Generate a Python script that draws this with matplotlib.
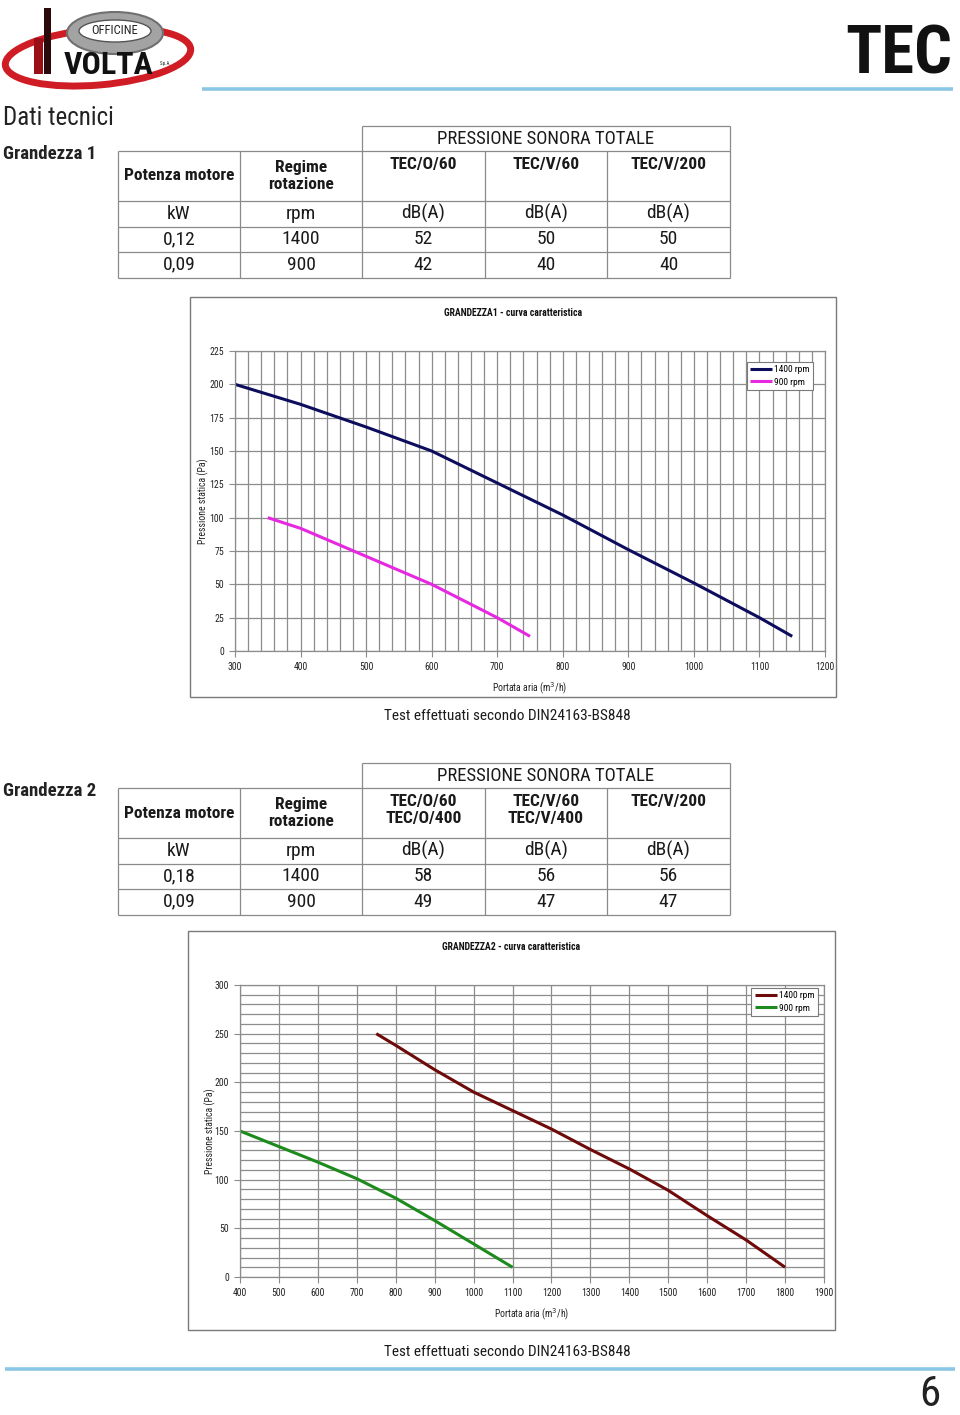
"""
Scheda tecnica TEC (pagina 6) — tabelle pressione sonora e curve caratteristiche.
"""

import matplotlib
matplotlib.use("Agg")
import matplotlib.pyplot as plt
from matplotlib import font_manager
from matplotlib.patches import Ellipse, Rectangle

# ---------------------------------------------------------------------------
# Dati
# ---------------------------------------------------------------------------

# Tabella Grandezza 1
G1_HEADER = ["TEC/O/60", "TEC/V/60", "TEC/V/200"]
G1_UNITS = ["kW", "rpm", "dB(A)", "dB(A)", "dB(A)"]
G1_ROWS = [
    ["0,12", "1400", "52", "50", "50"],
    ["0,09", "900", "42", "40", "40"],
]

# Tabella Grandezza 2
G2_HEADER = ["TEC/O/60\nTEC/O/400", "TEC/V/60\nTEC/V/400", "TEC/V/200"]
G2_UNITS = ["kW", "rpm", "dB(A)", "dB(A)", "dB(A)"]
G2_ROWS = [
    ["0,18", "1400", "58", "56", "56"],
    ["0,09", "900", "49", "47", "47"],
]

# Curva caratteristica Grandezza 1 (portata m3/h, pressione Pa)
G1_1400_Q = [300, 400, 500, 600, 700, 800, 900, 1000, 1100, 1150]
G1_1400_P = [200, 185, 168, 150, 126, 102, 76, 51, 25, 11]
G1_900_Q = [350, 400, 500, 600, 700, 750]
G1_900_P = [100, 92, 71, 50, 25, 11]

# Curva caratteristica Grandezza 2
G2_1400_Q = [750, 800, 900, 1000, 1100, 1200, 1300, 1400, 1500, 1600, 1700, 1800]
G2_1400_P = [250, 238, 213, 190, 171, 152, 131, 111, 89, 63, 38, 10]
G2_900_Q = [400, 500, 600, 700, 800, 900, 1000, 1100]
G2_900_P = [150, 134, 118, 101, 81, 58, 34, 10]

# ---------------------------------------------------------------------------
# Stile
# ---------------------------------------------------------------------------

W, H = 960, 1415
GRID_COLOR = "#8c8c8c"
TABLE_LINE = "#8a8a8a"
TEXT_COLOR = "#1a1a1a"
BLUE_RULE = "#8cc6e6"


def pick_condensed_font():
    """Cerca un font sans stretto (tipo Arial Narrow) tra quelli installati."""
    wanted = ["Liberation Sans Narrow", "Roboto Condensed", "Open Sans Condensed",
              "Noto Sans Condensed", "DejaVu Sans Condensed"]
    names = {f.name for f in font_manager.fontManager.ttflist}
    for name in wanted:
        if name in names:
            return name, "normal", 1.0
    for f in font_manager.fontManager.ttflist:
        if f.name in ("Liberation Sans", "Noto Sans", "Open Sans", "Roboto",
                      "DejaVu Sans") and f.stretch in ("condensed", "semi-condensed"):
            return f.name, f.stretch, 1.0
    # nessun font stretto: Liberation Sans un po' rimpicciolito
    return "Liberation Sans", "normal", 0.86


NARROW_NAME, NARROW_STRETCH, SIZE_K = pick_condensed_font()
NARROW = [NARROW_NAME, "Liberation Sans", "DejaVu Sans"]

plt.rcParams["font.family"] = NARROW

fig = plt.figure(figsize=(W / 100, H / 100), dpi=100)

# Asse "pagina" in coordinate pixel (y verso il basso)
page = fig.add_axes([0, 0, 1, 1])
page.set_xlim(0, W)
page.set_ylim(H, 0)
page.axis("off")


def px_axes(x0, y0, x1, y1):
    """Crea un axes a partire da un box in pixel della pagina."""
    return fig.add_axes([x0 / W, 1 - y1 / H, (x1 - x0) / W, (y1 - y0) / H])


def ptext(x, y, s, size, weight="normal", ha="center", va="center", **kw):
    page.text(x, y, s, fontsize=size * SIZE_K, fontweight=weight, ha=ha, va=va,
              family=NARROW, fontstretch=NARROW_STRETCH,
              color=kw.pop("color", TEXT_COLOR), **kw)


def hline(y, x0, x1, color=TABLE_LINE, lw=0.9):
    page.plot([x0, x1], [y, y], color=color, lw=lw, solid_capstyle="butt")


def vline(x, y0, y1, color=TABLE_LINE, lw=0.9):
    page.plot([x, x], [y0, y1], color=color, lw=lw, solid_capstyle="butt")


# ---------------------------------------------------------------------------
# Intestazione: logo, titolo, riga blu
# ---------------------------------------------------------------------------

page.add_patch(Ellipse((98, 57), 186, 56, angle=-5, fill=False,
                       edgecolor="#d01c24", lw=5))
page.add_patch(Ellipse((115, 33), 96, 42, facecolor="#a3a3a3",
                       edgecolor="#707070", lw=1.5))
page.add_patch(Ellipse((115, 31), 72, 22, facecolor="white",
                       edgecolor="#555555", lw=1))
page.add_patch(Rectangle((44, 8), 7, 66, facecolor="#2a0a0a", edgecolor="none"))
page.add_patch(Rectangle((34, 38), 9, 36, facecolor="#9b1018", edgecolor="none"))
ptext(115, 31, "OFFICINE", 9, color="#222222")
ptext(64, 65, "VOLTA", 23, weight="bold", ha="left", color="#111111")
ptext(166, 64, "S.p.A.", 3.5, ha="center", color="#222222")

ptext(952, 55, "TEC", 48, weight="bold", ha="right", color="#111111")
hline(89, 202, 953, color=BLUE_RULE, lw=2.6)

ptext(3, 118, "Dati tecnici", 18, ha="left", color="#222222")

# ---------------------------------------------------------------------------
# Tabelle
# ---------------------------------------------------------------------------

COL_X = [118, 240, 362, 485, 607, 730]


def draw_table(top, header, units, rows, title):
    """Disegna una tabella della pressione sonora a partire dalla y di testa."""
    y_band = top + 25
    y_head = y_band + 50
    row_h = 25.5
    y_rows = [y_head + row_h * (i + 1) for i in range(len(rows) + 1)]
    bottom = y_rows[-1]

    hline(top, COL_X[2], COL_X[-1])
    hline(y_band, COL_X[0], COL_X[-1])
    hline(y_head, COL_X[0], COL_X[-1])
    for y in y_rows:
        hline(y, COL_X[0], COL_X[-1])
    vline(COL_X[0], y_band, bottom)
    vline(COL_X[1], y_band, bottom)
    vline(COL_X[2], top, bottom)
    for x in COL_X[3:-1]:
        vline(x, y_band, bottom)
    vline(COL_X[-1], top, bottom)

    centers = [(COL_X[i] + COL_X[i + 1]) / 2 for i in range(5)]
    ptext((COL_X[2] + COL_X[-1]) / 2, top + 13, "PRESSIONE SONORA TOTALE", 13.5)
    ptext(centers[0], y_band + 25, "Potenza motore", 12.5, weight="bold")
    ptext(centers[1], y_band + 25, "Regime\nrotazione", 12.5, weight="bold",
          linespacing=1.15)
    for cx, label in zip(centers[2:], header):
        ptext(cx, y_band + 6, label, 12.5, weight="bold", va="top",
              linespacing=1.15)

    ptext(3, y_band + 3, title, 13.5, weight="bold", ha="left", color="#222222")

    all_rows = [units] + rows
    for i, row in enumerate(all_rows):
        yc = y_head + row_h * i + row_h / 2
        for cx, val in zip(centers, row):
            ptext(cx, yc, val, 14)


draw_table(126, G1_HEADER, G1_UNITS, G1_ROWS, "Grandezza 1")
draw_table(763, G2_HEADER, G2_UNITS, G2_ROWS, "Grandezza 2")

# ---------------------------------------------------------------------------
# Grafici curve caratteristiche
# ---------------------------------------------------------------------------


def draw_chart(box, plot_box, title, xlim, xmajor, xminor, ylim, ymajor, yminor,
               curves, colors, legend_anchor, ylabel_pad):
    bx0, by0, bx1, by1 = box
    page.add_patch(Rectangle((bx0, by0), bx1 - bx0, by1 - by0, fill=False,
                             edgecolor="#7a7a7a", lw=1.0))
    ptext((bx0 + bx1) / 2, by0 + 16, title, 7, weight="bold", color="#111111")

    fs = 7 * SIZE_K
    ax = px_axes(*plot_box)
    for (q, p), color, label in zip(curves, colors, ["1400 rpm", "900 rpm"]):
        ax.plot(q, p, color=color, lw=2.2, label=label, solid_capstyle="butt")

    ax.set_xlim(*xlim)
    ax.set_ylim(*ylim)
    ax.set_xticks(range(xlim[0], xlim[1] + 1, xmajor))
    ax.set_yticks(range(ylim[0], ylim[1] + 1, ymajor))
    ax.set_xticks(range(xlim[0], xlim[1] + 1, xminor), minor=True)
    ax.set_yticks(range(ylim[0], ylim[1] + 1, yminor), minor=True)
    ax.grid(True, which="both", color=GRID_COLOR, lw=0.9)
    ax.set_axisbelow(True)
    ax.tick_params(which="major", labelsize=fs, length=4, width=0.8,
                   color=GRID_COLOR, pad=4, labelcolor="#222222")
    ax.tick_params(which="minor", length=0)
    for s in ax.spines.values():
        s.set_color(GRID_COLOR)
        s.set_linewidth(0.9)

    ax.set_ylabel("Pressione statica (Pa)", fontsize=fs, color="#222222",
                  labelpad=ylabel_pad)
    ax.set_xlabel("Portata aria (m$^3$/h)", fontsize=fs, color="#222222",
                  labelpad=6)

    leg = ax.legend(loc="upper right", bbox_to_anchor=legend_anchor,
                    fontsize=6.8 * SIZE_K, frameon=True, fancybox=False,
                    edgecolor="#7a7a7a", framealpha=1, borderpad=0.35,
                    handlelength=2.3, handletextpad=0.3, labelspacing=0.35,
                    borderaxespad=0)
    leg.get_frame().set_linewidth(0.8)
    return ax


draw_chart(
    box=(190, 297, 836, 697),
    plot_box=(235, 351, 825, 651),
    title="GRANDEZZA1 - curva caratteristica",
    xlim=(300, 1200), xmajor=100, xminor=20,
    ylim=(0, 225), ymajor=25, yminor=25,
    curves=[(G1_1400_Q, G1_1400_P), (G1_900_Q, G1_900_P)],
    colors=["#0d0d5e", "#e628e0"],
    legend_anchor=(0.98, 0.963),
    ylabel_pad=0.5,
)
ptext(507, 716, "Test effettuati secondo DIN24163-BS848", 11)

draw_chart(
    box=(188, 931, 835, 1330),
    plot_box=(240, 985, 824, 1277),
    title="GRANDEZZA2 - curva caratteristica",
    xlim=(400, 1900), xmajor=100, xminor=100,
    ylim=(0, 300), ymajor=50, yminor=10,
    curves=[(G2_1400_Q, G2_1400_P), (G2_900_Q, G2_900_P)],
    colors=["#6e0a0a", "#1c8a1c"],
    legend_anchor=(0.99, 0.99),
    ylabel_pad=-1,
)
ptext(507, 1352, "Test effettuati secondo DIN24163-BS848", 11)

# Piè di pagina
hline(1369, 5, 955, color=BLUE_RULE, lw=2.6)
ptext(940, 1395, "6", 31, ha="right", color="#222222")

fig.savefig("out.png", dpi=100)
plt.close(fig)
